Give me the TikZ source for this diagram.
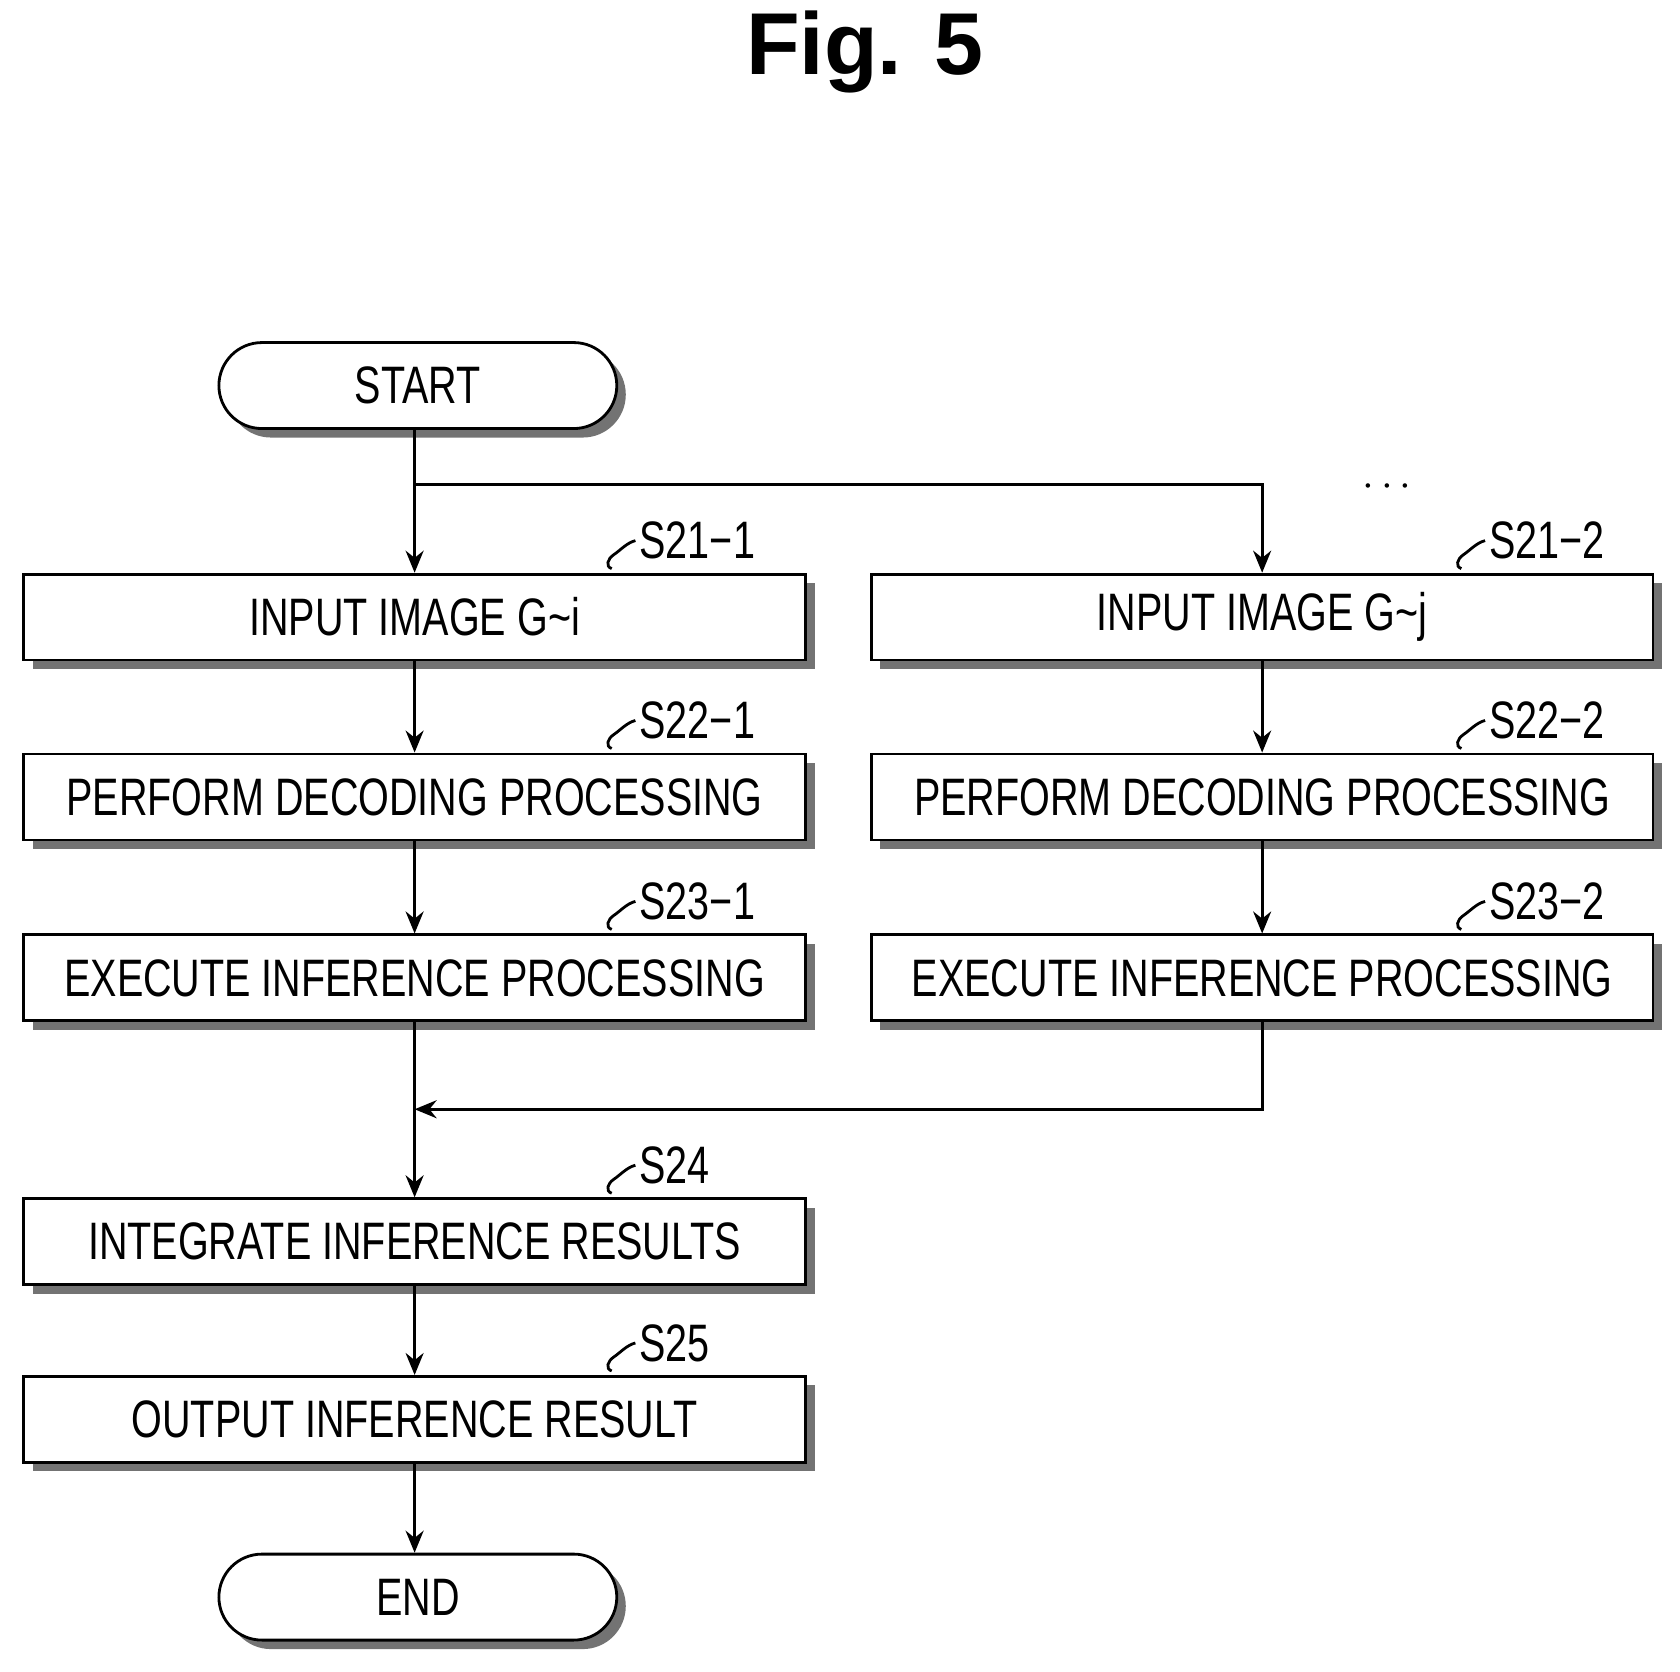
\documentclass[tikz,border=0pt]{standalone}
\usepackage{fontspec}
\setmainfont{Liberation Sans}
\newfontfamily\condfont[FakeStretch=0.75]{Liberation Sans}
\usetikzlibrary{arrows.meta,shapes.misc,shadows}

\tikzset{
  shade box/.style={drop shadow={shadow xshift=0.09cm,shadow yshift=-0.09cm,fill=black!55,opacity=1}},
  procbox/.style={draw,thick,fill=white,shade box,minimum width=7.82cm,minimum height=0.86cm,
    inner sep=0pt,font=\condfont\fontsize{15}{15}\selectfont},
  term/.style={procbox,rounded rectangle,minimum width=3.98cm},
  flow/.style={thick,-{Stealth[length=0.22cm,width=0.18cm]}},
  tag/.style={font=\condfont\fontsize{15}{15}\selectfont,anchor=west,inner sep=1pt}
}
% squiggle leader + step number
\newcommand{\steptag}[3]{%
  \draw[thick] (#1) .. controls +(-6,-2) and +(-6,4) .. ++(2,-13)
    .. controls +(6,-4) and +(-8,2) .. ++(20,-13) coordinate (#2);
  \node[tag] at (#2) {#3};}

\begin{document}
\begin{tikzpicture}[x=0.01077cm,y=-0.01077cm]
  \useasboundingbox (0,0) rectangle (1560,1552);

  % title
  \node[font=\bfseries\fontsize{25}{25}\selectfont] (title) at (803,48) {Fig. 5};

  % terminals
  \node[term] (start) at (388,358) {START};
  \node[term] (end) at (388,1483) {END};

  % left branch
  \node[procbox] (s211) at (385,573) {INPUT IMAGE G\textasciitilde i};
  \node[procbox] (s221) at (385,740) {PERFORM DECODING PROCESSING};
  \node[procbox] (s231) at (385,908) {EXECUTE INFERENCE PROCESSING};

  % right branch
  \node[procbox] (s212) at (1172,573) {INPUT IMAGE G\textasciitilde j};
  \node[procbox] (s222) at (1172,740) {PERFORM DECODING PROCESSING};
  \node[procbox] (s232) at (1172,908) {EXECUTE INFERENCE PROCESSING};

  % merged steps
  \node[procbox] (s24) at (385,1153) {INTEGRATE INFERENCE RESULTS};
  \node[procbox] (s25) at (385,1318) {OUTPUT INFERENCE RESULT};

  \node (dots) at (1288,452) {\fontsize{12}{12}\selectfont$\cdots$};

  % step numbers
  \coordinate (a1) at (568,528); \steptag{a1}{b1}{S21−1}
  \coordinate (a2) at (1357,528); \steptag{a2}{b2}{S21−2}
  \coordinate (a3) at (568,695); \steptag{a3}{b3}{S22−1}
  \coordinate (a4) at (1357,695); \steptag{a4}{b4}{S22−2}
  \coordinate (a5) at (568,863); \steptag{a5}{b5}{S23−1}
  \coordinate (a6) at (1357,863); \steptag{a6}{b6}{S23−2}
  \coordinate (a7) at (568,1108); \steptag{a7}{b7}{S24}
  \coordinate (a8) at (568,1273); \steptag{a8}{b8}{S25}

  % connectors
  \coordinate (fork) at (385,450);
  \coordinate (join) at (385,1030);
  \draw[flow] (start.south -| s211) -- (s211);
  \draw[flow] (fork) -| (s212);
  \draw[flow] (s211) -- (s221);
  \draw[flow] (s221) -- (s231);
  \draw[flow] (s212) -- (s222);
  \draw[flow] (s222) -- (s232);
  \draw[flow] (s231) -- (s24);
  \draw[flow] (s232) |- (join);
  \draw[flow] (s24) -- (s25);
  \draw[flow] (s25) -- (end.north -| s25);
\end{tikzpicture}
\end{document}
